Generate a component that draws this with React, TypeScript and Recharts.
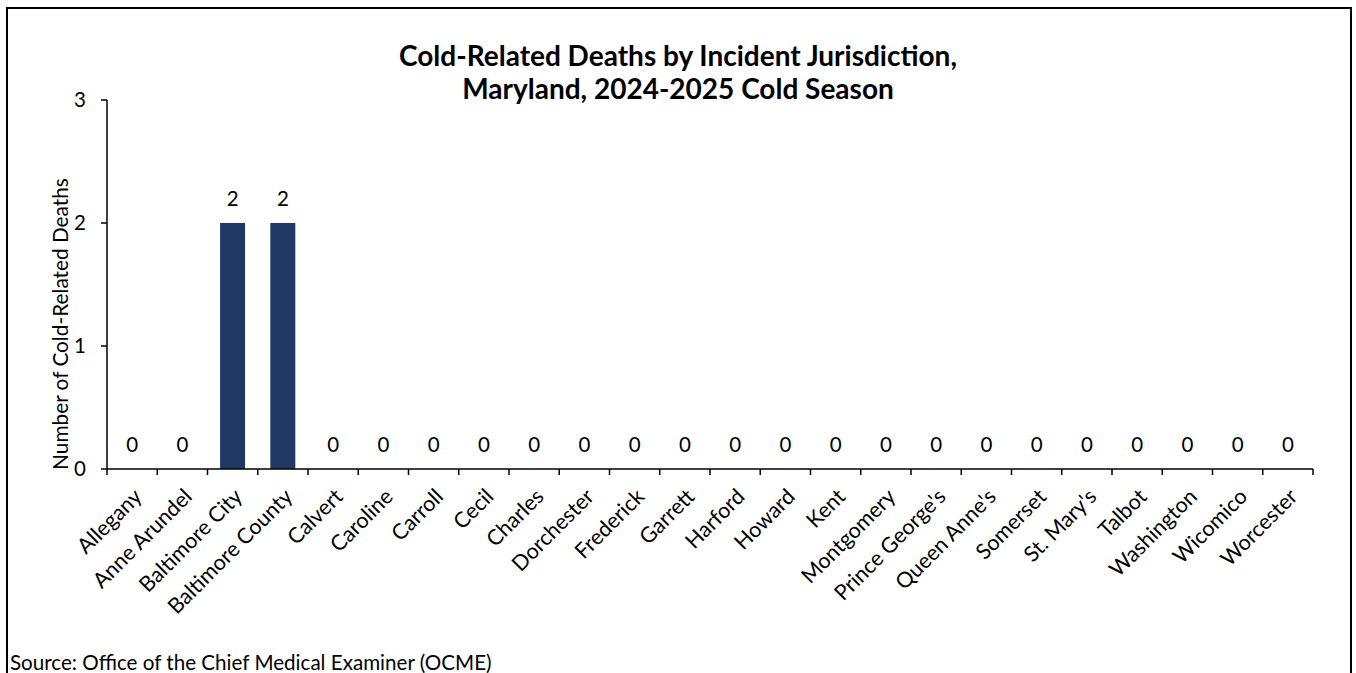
import { ComposedChart, Bar, Line, XAxis, YAxis, LabelList } from 'recharts';

const jurisdictions = [
  'Allegany', 'Anne Arundel', 'Baltimore City', 'Baltimore County', 'Calvert', 'Caroline',
  'Carroll', 'Cecil', 'Charles', 'Dorchester', 'Frederick', 'Garrett', 'Harford', 'Howard',
  'Kent', 'Montgomery', "Prince George's", "Queen Anne's", 'Somerset', "St. Mary's", 'Talbot',
  'Washington', 'Wicomico', 'Worcester',
];
const deaths = [0, 0, 2, 2, 0, 0, 0, 0, 0, 0, 0, 0, 0, 0, 0, 0, 0, 0, 0, 0, 0, 0, 0, 0];
const yTicks = [0, 1, 2, 3];

const data = jurisdictions.map((name, i) => ({ name, deaths: deaths[i] }));

const FONT = 'Lato, "Open Sans", sans-serif';

// tick line on category boundaries, label under the centre
function JurisdictionTick(props: any) {
  const { x, y, payload, index, width, visibleTicksCount } = props;
  const band = width / visibleTicksCount;
  const last = index === visibleTicksCount - 1;
  const tx = x + 11;
  const ty = y + 21;
  return (
    <g>
      <line x1={x - band / 2} x2={x - band / 2} y1={y - 8} y2={y - 2} stroke="#000" strokeWidth={1.5} />
      {last && <line x1={x + band / 2} x2={x + band / 2} y1={y - 8} y2={y - 2} stroke="#000" strokeWidth={1.5} />}
      <text
        x={tx}
        y={ty}
        transform={`rotate(-45, ${tx}, ${ty})`}
        textAnchor="end"
        fontSize={21.5}
        fontFamily={FONT}
        fill="#000"
      >
        {payload.value}
      </text>
    </g>
  );
}

const titleStyle = {
  position: 'absolute' as const, left: 0, width: 1356, textAlign: 'center' as const,
  fontSize: 28, fontWeight: 700, lineHeight: '33px', color: '#000',
};

export default function App() {
  return (
    <div style={{ position: 'absolute', left: 0, top: 0, width: 1356, height: 673, background: '#fff', fontFamily: FONT }}>
      <div style={{ position: 'absolute', left: 6, top: 7, width: 1342, height: 680, border: '2px solid #000' }} />
      <div style={{ ...titleStyle, top: 39 }}>Cold-Related Deaths by Incident Jurisdiction,</div>
      <div style={{ ...titleStyle, top: 72 }}>Maryland, 2024-2025 Cold Season</div>
      <div
        style={{
          position: 'absolute', left: 59, top: 324, transform: 'translate(-50%, -50%) rotate(-90deg)',
          whiteSpace: 'nowrap', fontSize: 20.8, color: '#000',
        }}
      >
        Number of Cold-Related Deaths
      </div>
      <div style={{ position: 'absolute', left: 10, top: 650, fontSize: 20.6, lineHeight: '25px', color: '#000' }}>
        Source: Office of the Chief Medical Examiner (OCME)
      </div>
      <div style={{ position: 'absolute', left: 0, top: 0 }}>
        <ComposedChart width={1356} height={673} data={data} margin={{ top: 100, right: 43, left: 47, bottom: 54 }} barCategoryGap="25%">
          <XAxis
            dataKey="name"
            interval={0}
            height={150}
            axisLine={{ stroke: '#000', strokeWidth: 1.5 }}
            tickLine={false}
            tick={<JurisdictionTick />}
          />
          <YAxis
            width={60}
            domain={[0, 3]}
            ticks={yTicks}
            interval={0}
            tickSize={6}
            tickMargin={15}
            axisLine={{ stroke: '#000', strokeWidth: 1.5 }}
            tickLine={{ stroke: '#000', strokeWidth: 1.5 }}
            tick={{ fontSize: 20.5, fill: '#000', fontFamily: FONT }}
          />
          <Bar dataKey="deaths" fill="#203864" isAnimationActive={false} />
          {/* invisible series so every category, zeros included, gets a data label */}
          <Line dataKey="deaths" stroke="none" dot={false} activeDot={false} legendType="none" isAnimationActive={false}>
            <LabelList dataKey="deaths" position="top" offset={17} fill="#000" fontSize={20.5} fontFamily={FONT} />
          </Line>
        </ComposedChart>
      </div>
    </div>
  );
}
